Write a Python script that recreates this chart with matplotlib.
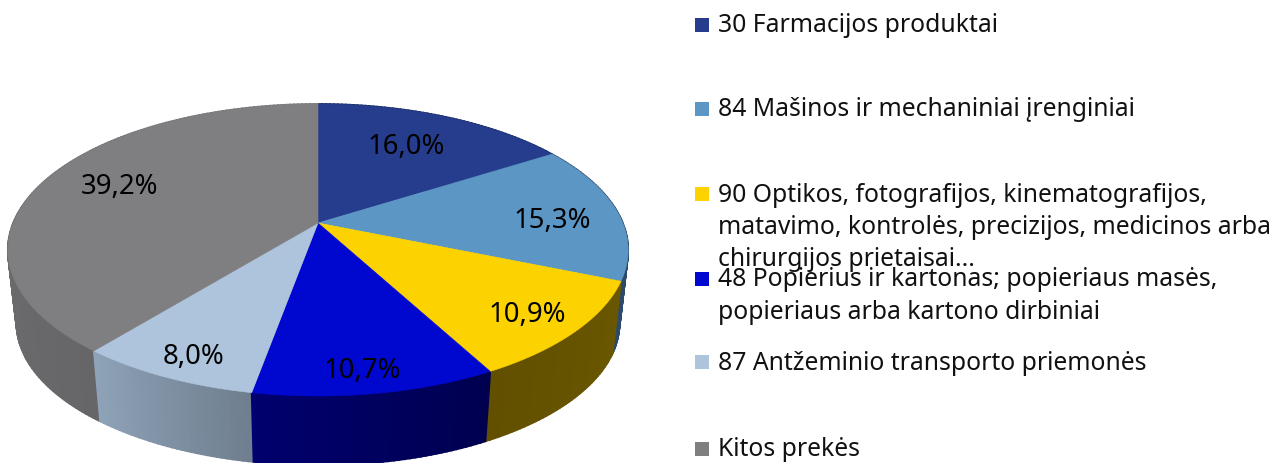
import numpy as np
import matplotlib
matplotlib.use("Agg")
import matplotlib.pyplot as plt
from matplotlib.colors import to_rgb
from matplotlib.patches import Polygon, Rectangle

plt.rcParams['font.family'] = ['Noto Sans', 'DejaVu Sans']

# data
values = [16.0, 15.3, 10.9, 10.7, 8.0, 39.2]
value_labels = ["16,0%", "15,3%", "10,9%", "10,7%", "8,0%", "39,2%"]
legend_names = [
    "30 Farmacijos produktai",
    "84 Mašinos ir mechaniniai įrenginiai",
    "90 Optikos, fotografijos, kinematografijos,\nmatavimo, kontrolės, precizijos, medicinos arba\nchirurgijos prietaisai...",
    "48 Popierius ir kartonas; popieriaus masės,\npopieriaus arba kartono dirbiniai",
    "87 Antžeminio transporto priemonės",
    "Kitos prekės",
]
top_colors = ["#253d8c", "#5b96c5", "#fcd200", "#0008cf", "#adc4dc", "#7f7f82"]
side_colors_start = ["#1c2e66", "#2d4a6b", "#6a5700", "#00004f", "#6f7f8f", "#666668"]
side_colors_end = ["#1c2e66", "#2d4a6b", "#625000", "#00006e", "#8fa3b8", "#7a7a7c"]

# where things go, in pixels of the reference
label_xy = [(406, 147.5), (552, 221.5), (527, 314.5), (362, 370.5), (194, 356.5), (120, 186.5)]
legend_y = [25, 109, 194, 279, 362, 449]
line_gap = 32.3
FONT_LEGEND = 17.8
FONT_VALUE = 19.8


def project(theta, scale=1.0, cy=223.0):
    # pie lying on a tilted plane, seen in perspective
    u = np.sin(theta)
    v = np.cos(theta)
    w = 1 + 0.185 * v
    return 318 + scale * 304.8 * u / w, cy - scale * 141.0 * v / w


fig = plt.figure(figsize=(12.8, 4.63), dpi=100)
ax = fig.add_axes([0, 0, 1, 1])
ax.set_xlim(0, 1280)
ax.set_ylim(463, 0)
ax.axis("off")

fractions = np.array(values) / sum(values)
edges = np.concatenate([[0], np.cumsum(fractions)]) * 2 * np.pi

# side wall: thin strips, back ones first
strips = []
for i in range(len(values)):
    thetas = np.linspace(edges[i], edges[i + 1], int(values[i] * 4) + 2)
    c0 = np.array(to_rgb(side_colors_start[i]))
    c1 = np.array(to_rgb(side_colors_end[i]))
    for j in range(len(thetas) - 1):
        t = j / max(len(thetas) - 2, 1)
        strips.append((thetas[j], thetas[j + 1], c0 + (c1 - c0) * t))
strips.sort(key=lambda s: -np.cos((s[0] + s[1]) / 2))
for t0, t1, col in strips:
    pair = np.array([t0, t1])
    xa, ya = project(pair)
    xb, yb = project(pair, 0.972, 297.0)
    pts = np.column_stack([np.r_[xa, xb[::-1]], np.r_[ya, yb[::-1]]])
    ax.add_patch(Polygon(pts, closed=True, facecolor=col, edgecolor=col, linewidth=1.3))

# top face
for i in range(len(values)):
    thetas = np.linspace(edges[i], edges[i + 1], 120)
    x, y = project(thetas)
    pts = np.column_stack([np.r_[318, x], np.r_[223, y]])
    ax.add_patch(Polygon(pts, closed=True, facecolor=top_colors[i], edgecolor=top_colors[i], linewidth=0.4))

for txt, (x, y) in zip(value_labels, label_xy):
    ax.text(x, y, txt, ha="center", va="center", fontsize=FONT_VALUE, color="black")

# legend, the third entry overflows into the fourth like in the original
for name, col, y in zip(legend_names, top_colors, legend_y):
    ax.add_patch(Rectangle((695, y - 7), 14, 14, facecolor=col, edgecolor="none"))
    for k, line in enumerate(name.split("\n")):
        ax.text(718, y + 1 + k * line_gap, line, ha="left", va="center", fontsize=FONT_LEGEND, color="#111111")

fig.savefig("out.png", dpi=100)
